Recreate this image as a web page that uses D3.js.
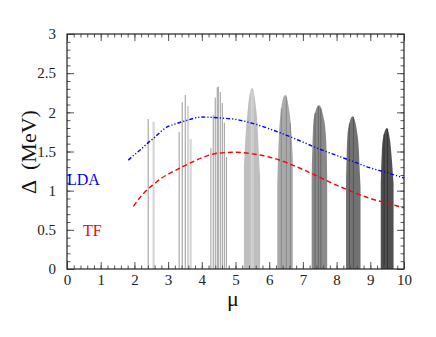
<!DOCTYPE html>
<html><head><meta charset="utf-8">
<script src="https://cdn.jsdelivr.net/npm/d3@7"></script>
<style>body{margin:0;background:#fff;}svg{display:block;}</style>
</head><body>
<script>
// ---- data ----
const xTicks = [0,1,2,3,4,5,6,7,8,9,10];
const yTicks = [0,0.5,1,1.5,2,2.5,3];
const yTickLabels = ["0","0.5","1","1.5","2","2.5","3"];

// individual spikes (mu, Delta, kind)
const spikeMu    = [2.41,2.57,3.33,3.42,3.51,3.59,3.67,4.27,4.34,4.40,4.46,4.49,4.55,4.61,4.67,4.73];
const spikeDelta = [1.915,1.88,1.75,2.13,2.22,2.08,1.66,1.54,1.97,2.19,2.32,2.33,2.26,2.12,1.87,1.43];
const spikeKind  = ["m","l","m","m","m","l","l","m","m","m","m","m","m","m","m","m"];

// bell-shaped peaks (outline points)
const peakMu = [
  [5.25,5.30,5.35,5.40,5.45,5.50,5.55,5.60,5.65,5.68,5.73],
  [6.24,6.29,6.34,6.39,6.44,6.49,6.54,6.59,6.64,6.67,6.70],
  [7.26,7.31,7.36,7.41,7.49,7.56,7.61,7.66,7.71,7.72],
  [8.28,8.32,8.37,8.42,8.48,8.54,8.60,8.66,8.69,8.71],
  [9.31,9.35,9.39,9.44,9.49,9.54,9.59,9.64,9.69]
];
const peakDelta = [
  [1.31,1.71,1.97,2.18,2.28,2.31,2.24,2.09,1.86,1.58,1.18],
  [1.07,1.71,1.99,2.14,2.21,2.22,2.16,2.03,1.86,1.65,1.43],
  [1.18,1.86,1.99,2.06,2.09,2.03,1.94,1.82,1.48,1.20],
  [1.14,1.69,1.84,1.92,1.95,1.90,1.77,1.52,1.22,1.05],
  [1.09,1.56,1.69,1.77,1.80,1.75,1.63,1.39,1.09]
];
// inner lines within peaks (mu, Delta, peak index)
const innerMu    = [5.47,5.52,6.36,6.51,6.63,7.36,7.46,7.53,8.38,8.50,9.41,9.51];
const innerDelta = [2.27,2.29,2.05,2.20,1.86,1.99,2.08,2.05,1.86,1.94,1.72,1.79];
const innerPeak  = [0,0,1,1,1,2,2,2,3,3,4,4];

// curves
const ldaMu    = [1.82,2.0,2.2,2.4,2.6,2.8,3.0,3.2,3.5,4.0,4.5,5.0,5.5,6.0,6.5,7.0,7.5,8.0,8.5,9.0,9.5,10.0];
const ldaDelta = [1.39,1.46,1.53,1.61,1.68,1.76,1.82,1.85,1.89,1.94,1.93,1.91,1.86,1.79,1.71,1.62,1.53,1.45,1.37,1.29,1.23,1.16];
const tfMu     = [1.97,2.2,2.4,2.6,2.8,3.0,3.5,4.0,4.5,5.0,5.5,6.0,6.5,7.0,7.5,8.0,8.5,9.0,9.5,10.0];
const tfDelta  = [0.80,0.93,1.02,1.09,1.16,1.21,1.32,1.42,1.48,1.49,1.47,1.43,1.36,1.27,1.17,1.07,0.98,0.90,0.84,0.78];

// ---- styles ----
const W = 436, H = 337;
const M = {left:67, right:404, top:34, bottom:269};
const peakFill = ["#bfbfbf","#a9a9a9","#8a8a8a","#727272","#505050"];
const innerStroke = ["#d9d9d9","#888888","#666666","#555555","#333333"];
const spikeColor = {m:"#aaaaaa", l:"#d6d6d6"};
const spikeWidth = {m:1.2, l:2.2};
const serif = "Liberation Serif";

const svg = d3.select("body").append("svg").attr("width",W).attr("height",H);
svg.append("rect").attr("width",W).attr("height",H).attr("fill","#fff");

const x = d3.scaleLinear().domain([0,10]).range([M.left,M.right]);
const y = d3.scaleLinear().domain([0,3]).range([M.bottom,M.top]);

// spikes
svg.append("g").selectAll("line").data(spikeMu).join("line")
  .attr("x1",d=>x(d)).attr("x2",d=>x(d))
  .attr("y1",y(0)).attr("y2",(d,i)=>y(spikeDelta[i]))
  .attr("stroke",(d,i)=>spikeColor[spikeKind[i]])
  .attr("stroke-width",(d,i)=>spikeWidth[spikeKind[i]]);

// peaks
const area = d3.area().x(d=>x(d[0])).y0(y(0)).y1(d=>y(d[1])).curve(d3.curveMonotoneX);
svg.append("g").selectAll("path").data(peakMu).join("path")
  .attr("d",(m,i)=>area(m.map((v,j)=>[v,peakDelta[i][j]])))
  .attr("fill",(m,i)=>peakFill[i]);

svg.append("g").selectAll("line").data(innerMu).join("line")
  .attr("x1",d=>x(d)).attr("x2",d=>x(d))
  .attr("y1",y(0)).attr("y2",(d,i)=>y(innerDelta[i]))
  .attr("stroke",(d,i)=>innerStroke[innerPeak[i]])
  .attr("stroke-width",1);

// curves
const line = d3.line().x(d=>x(d[0])).y(d=>y(d[1])).curve(d3.curveMonotoneX);
svg.append("path").attr("d",line(ldaMu.map((v,i)=>[v,ldaDelta[i]])))
  .attr("fill","none").attr("stroke","#0000ff").attr("stroke-width",1.4)
  .attr("stroke-dasharray","4,2,1.2,2,1.2,2");
svg.append("path").attr("d",line(tfMu.map((v,i)=>[v,tfDelta[i]])))
  .attr("fill","none").attr("stroke","#ff0000").attr("stroke-width",1.4)
  .attr("stroke-dasharray","5,3");

// axes frame
const axCol = "#222";
const gx = svg.append("g").attr("transform",`translate(0,${M.bottom})`)
  .call(d3.axisBottom(x).tickValues(xTicks).tickFormat(d3.format("d")).tickSize(-7).tickPadding(12));
const gxm = svg.append("g").attr("transform",`translate(0,${M.bottom})`)
  .call(d3.axisBottom(x).tickValues(d3.range(0,10.01,0.2)).tickFormat("").tickSize(-3.5));
const gxt = svg.append("g").attr("transform",`translate(0,${M.top})`)
  .call(d3.axisTop(x).tickValues(xTicks).tickFormat("").tickSize(-7));
const gxtm = svg.append("g").attr("transform",`translate(0,${M.top})`)
  .call(d3.axisTop(x).tickValues(d3.range(0,10.01,0.2)).tickFormat("").tickSize(-3.5));
const gy = svg.append("g").attr("transform",`translate(${M.left},0)`)
  .call(d3.axisLeft(y).tickValues(yTicks).tickFormat((d,i)=>yTickLabels[i]).tickSize(-7).tickPadding(11));
const gym = svg.append("g").attr("transform",`translate(${M.left},0)`)
  .call(d3.axisLeft(y).tickValues(d3.range(0,3.001,0.1)).tickFormat("").tickSize(-3.5));
const gyr = svg.append("g").attr("transform",`translate(${M.right},0)`)
  .call(d3.axisRight(y).tickValues(yTicks).tickFormat("").tickSize(-7));
const gyrm = svg.append("g").attr("transform",`translate(${M.right},0)`)
  .call(d3.axisRight(y).tickValues(d3.range(0,3.001,0.1)).tickFormat("").tickSize(-3.5));
[gx,gxm,gxt,gxtm,gy,gym,gyr,gyrm].forEach(g=>{
  g.attr("font-family",serif);
  g.select(".domain").remove();
  g.selectAll(".tick line").attr("stroke","#555").attr("stroke-width",1);
  g.selectAll("text").attr("font-family",serif).attr("font-size",15).attr("fill","#222");
});
gx.selectAll("text").attr("dy","0.25em");
svg.append("rect").attr("x",M.left).attr("y",M.top)
  .attr("width",M.right-M.left).attr("height",M.bottom-M.top)
  .attr("fill","none").attr("stroke",axCol).attr("stroke-width",1.2);

// labels
svg.append("text").attr("transform",`translate(36,152) rotate(-90)`)
  .attr("text-anchor","middle").attr("font-family",serif).attr("font-size",22)
  .attr("fill","#111").style("white-space","pre").text("Δ  (MeV)");
svg.append("text").attr("x",233).attr("y",306).attr("text-anchor","middle")
  .attr("font-family",serif).attr("font-size",22).attr("fill","#111").text("μ");
svg.append("text").attr("x",67).attr("y",185).attr("font-family",serif)
  .attr("font-size",16).attr("fill","#0000ff").text("LDA");
svg.append("text").attr("x",83).attr("y",236).attr("font-family",serif)
  .attr("font-size",16).attr("fill","#ff0000").text("TF");
</script>
</body></html>
